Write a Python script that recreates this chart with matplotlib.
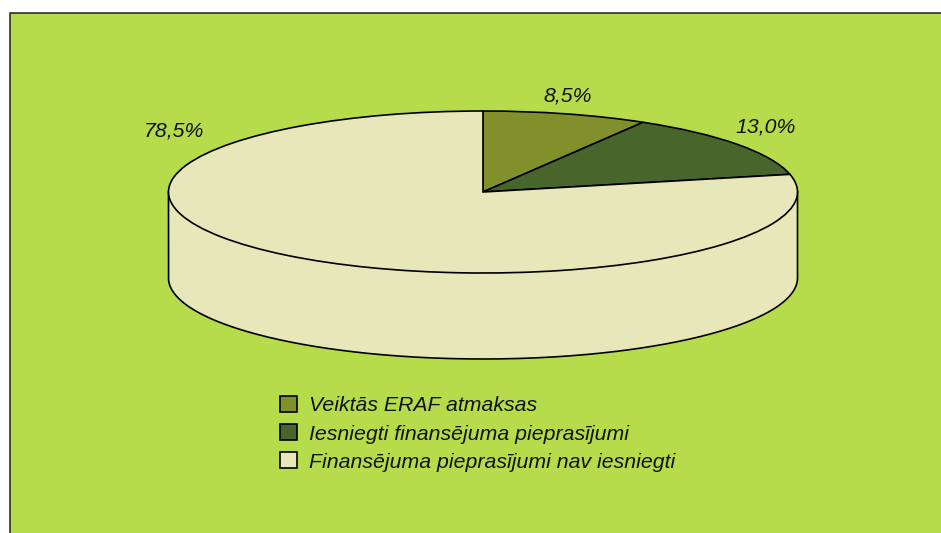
import numpy as np
import matplotlib
matplotlib.use("Agg")
import matplotlib.pyplot as plt
from matplotlib.patches import Rectangle

plt.rcParams['font.family'] = ['Liberation Sans', 'DejaVu Sans']

labels = ['Veiktās ERAF atmaksas', 'Iesniegti finansējuma pieprasījumi', 'Finansējuma pieprasījumi nav iesniegti']
values = [8.5, 13.0, 78.5]
colors = ['#82902C', '#48652B', '#E7E7B9']
panel = '#B6DB4B'

W, H = 941, 533
cx, cy = 483, 192      # pie centre, pixels
rx, ry = 314.5, 81     # ellipse radii, pixels
depth = 86 / ry        # wall height in y units

fig = plt.figure(figsize=(W / 100, H / 100), dpi=100, facecolor='white')

# green panel, runs off the right and bottom edges
fig.patches.append(Rectangle((9.5 / W, 1 - 12.5 / H), 1.2, -1.2, transform=fig.transFigure,
                             facecolor=panel, edgecolor='#222222', linewidth=1.1, figure=fig, zorder=-1))

ax = fig.add_axes([0, 0, 1, 1])
wedges, _ = ax.pie(values, colors=colors, startangle=90, counterclock=False, radius=1,
                   wedgeprops={'edgecolor': 'black', 'linewidth': 1.2, 'zorder': 3})

# side wall of the disc
t = np.linspace(np.pi, 2 * np.pi, 400)
ax.fill_between(np.cos(t), np.sin(t), np.sin(t) - depth, color=colors[2], linewidth=0, zorder=1)
wall_x = np.r_[-1, np.cos(t), 1]
wall_y = np.r_[0, np.sin(t) - depth, 0]
ax.plot(wall_x, wall_y, color='black', lw=1.2, zorder=2)

ax.set_aspect('auto')
ax.set_xlim(-cx / rx, (W - cx) / rx)
ax.set_ylim((cy - H) / ry, cy / ry)
ax.axis('off')

# percent labels, placed by hand
label_pos = [(568, 96), (766, 127), (174, 131)]
for v, (px, py) in zip(values, label_pos):
    ax.text(px / W, 1 - py / H, f'{v:.1f}%'.replace('.', ','), transform=fig.transFigure,
            ha='center', va='center', style='italic', fontsize=15.3, color='#111111')

leg = ax.legend(wedges, labels, loc='upper left', bbox_to_anchor=(280 / W, 1 - 396 / H),
                bbox_transform=fig.transFigure, frameon=False, fontsize=15.3, handlelength=0.78,
                handleheight=0.78, handletextpad=0.59, labelspacing=0.417, borderpad=0, borderaxespad=0)
for txt in leg.get_texts():
    txt.set_style('italic')
    txt.set_color('#111111')

fig.savefig('out.png', dpi=100, facecolor='white')
